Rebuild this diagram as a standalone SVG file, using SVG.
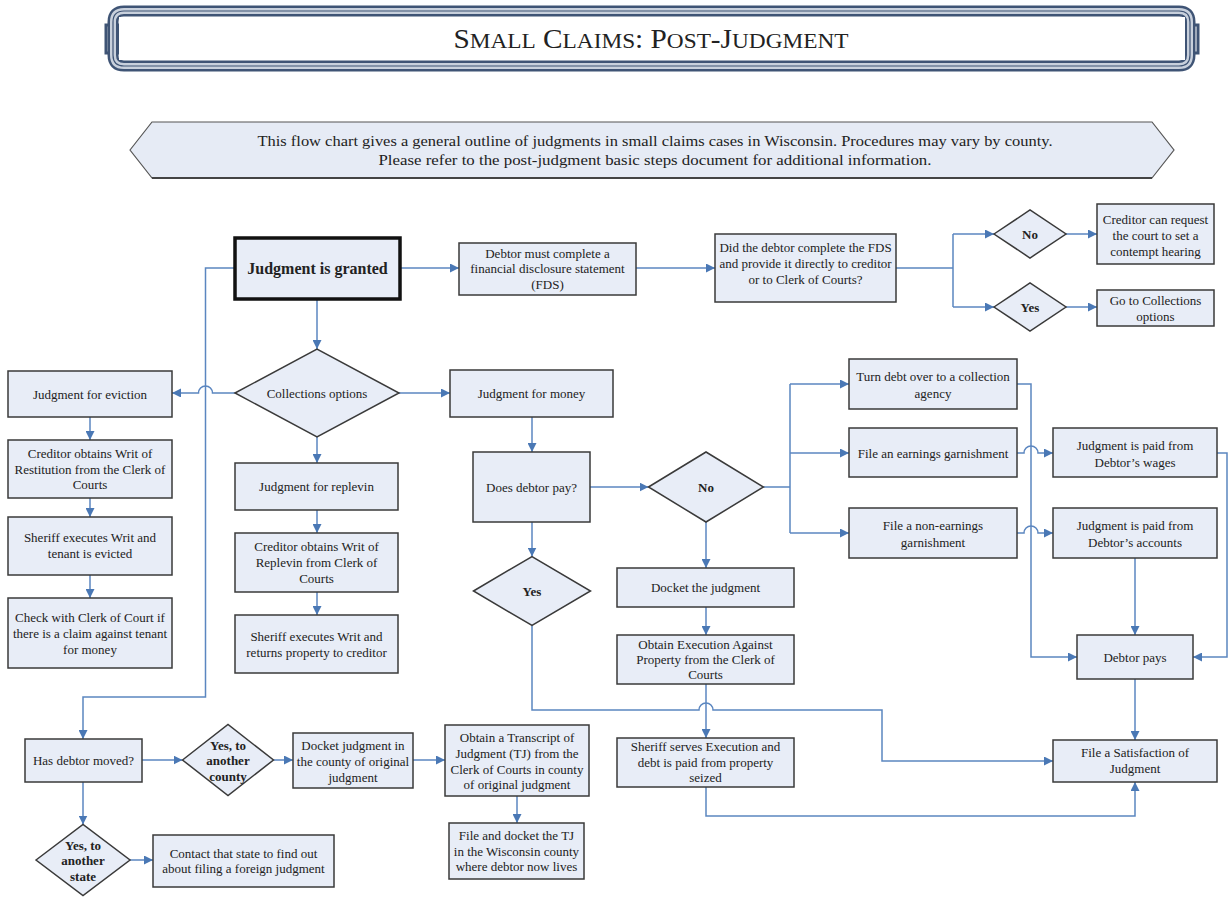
<svg xmlns="http://www.w3.org/2000/svg" width="1229" height="897" viewBox="0 0 1229 897">
<defs>
<marker id="ah" markerUnits="userSpaceOnUse" markerWidth="9" markerHeight="9" refX="9" refY="4.5" orient="auto">
<path d="M0,0 L9,4.5 L0,9 z" fill="#4a78b5"/>
</marker>
<style>
.box{fill:#e8edf7;stroke:#3a3a3a;stroke-width:1.5}
.t{font-family:"Liberation Serif","Times New Roman",serif;font-size:13px;fill:#222;text-anchor:middle}
.b{font-weight:bold}
.c{fill:none;stroke:#5b86c0;stroke-width:1.5}
.a{marker-end:url(#ah)}
.fr1{fill:none;stroke:#3f5475;stroke-width:11}
.fr2{fill:none;stroke:#c8d0dc;stroke-width:6}
.fr3{fill:none;stroke:#3f5475;stroke-width:1.2}
</style>
</defs>
<rect width="1229" height="897" fill="#ffffff"/>

<g id="title">
<rect x="106" y="25" width="12" height="28" fill="none" stroke="#3f5475" stroke-width="3"/>
<rect x="1186" y="25" width="12" height="28" fill="none" stroke="#3f5475" stroke-width="3"/>
<path class="fr1" d="M124 11 L1179 11 Q1190 11 1190 22 L1190 55 Q1190 66 1179 66 L124 66 Q113 66 113 55 L113 22 Q113 11 124 11 Z"/>
<path class="fr2" d="M124 11 L1179 11 Q1190 11 1190 22 L1190 55 Q1190 66 1179 66 L124 66 Q113 66 113 55 L113 22 Q113 11 124 11 Z"/>
<path class="fr3" d="M124 11 L1179 11 Q1190 11 1190 22 L1190 55 Q1190 66 1179 66 L124 66 Q113 66 113 55 L113 22 Q113 11 124 11 Z"/>
<rect x="119" y="17" width="1066" height="43" fill="#ffffff"/>
<text x="651" y="48" text-anchor="middle" font-family="Liberation Serif,Times New Roman,serif" font-size="27" fill="#222" textLength="395" lengthAdjust="spacingAndGlyphs">S<tspan font-size="21.5">MALL</tspan> C<tspan font-size="21.5">LAIMS</tspan>: P<tspan font-size="21.5">OST</tspan>-J<tspan font-size="21.5">UDGMENT</tspan></text>
</g>

<g id="banner">
<polygon points="130,150 152,122 1152,122 1174,150 1152,178 152,178" fill="#e6ebf5" stroke="#555" stroke-width="1.2"/>
<line x1="152" y1="178" x2="1152" y2="178" stroke="#444" stroke-width="2.2"/>
<text class="t" x="655" y="146" style="font-size:15px" textLength="795" lengthAdjust="spacingAndGlyphs">This flow chart gives a general outline of judgments in small claims cases in Wisconsin.  Procedures may vary by county.</text>
<text class="t" x="655" y="165" style="font-size:15px" textLength="553" lengthAdjust="spacingAndGlyphs">Please refer to the post-judgment basic steps document for additional information.</text>
</g>

<g id="connectors">
<path class="c a" d="M400 268 L459 268"/>
<path class="c a" d="M636 268 L715 268"/>
<path class="c" d="M896 268 L953 268 M953 234 L953 307"/>
<path class="c a" d="M953 234 L994 234"/>
<path class="c a" d="M953 307 L994 307"/>
<path class="c a" d="M1066 234 L1097 234"/>
<path class="c a" d="M1066 307 L1097 307"/>
<path class="c a" d="M317 299 L317 349"/>
<path class="c a" d="M235 393 L212.5 393 A7 7 0 0 0 198.5 393 L172 393"/>
<path class="c a" d="M399 393 L450 393"/>
<path class="c a" d="M317 437 L317 463"/>
<path class="c a" d="M317 510 L317 533"/>
<path class="c a" d="M317 592 L317 615"/>
<path class="c a" d="M90 417 L90 440"/>
<path class="c a" d="M90 498 L90 517"/>
<path class="c a" d="M90 575 L90 598"/>
<path class="c a" d="M532 417 L532 452"/>
<path class="c a" d="M532 522 L532 556.5"/>
<path class="c a" d="M590 487 L648.5 487"/>
<path class="c a" d="M706 522 L706 568"/>
<path class="c a" d="M706 607 L706 635"/>
<path class="c a" d="M706 684 L706 738"/>
<path class="c a" d="M532 625.5 L532 710 L699 710 A7 7 0 0 1 713 710 L882 710 L882 761 L1053 761"/>
<path class="c a" d="M706 787 L706 816 L1135 816 L1135 782"/>
<path class="c" d="M763.5 487 L790 487 M790 384 L790 533"/>
<path class="c a" d="M790 384 L849 384"/>
<path class="c a" d="M790 453 L849 453"/>
<path class="c a" d="M790 533 L849 533"/>
<path class="c a" d="M1017 384 L1031 384 L1031 657 L1077 657"/>
<path class="c a" d="M1017 453 L1024 453 A7 7 0 0 1 1038 453 L1053 453"/>
<path class="c a" d="M1017 533 L1024 533 A7 7 0 0 1 1038 533 L1053 533"/>
<path class="c a" d="M1217 453 L1227 453 L1227 657 L1193 657"/>
<path class="c a" d="M1135 558 L1135 635"/>
<path class="c a" d="M1135 679 L1135 740"/>
<path class="c a" d="M235 268 L205.5 268 L205.5 697 L83 697 L83 739"/>
<path class="c a" d="M142 760 L182.5 760"/>
<path class="c a" d="M273.5 760 L293 760"/>
<path class="c a" d="M413 760 L445 760"/>
<path class="c a" d="M517 796 L517 823"/>
<path class="c a" d="M83 782 L83 824.5"/>
<path class="c a" d="M130 860 L153 860"/>
</g>

<g id="n-granted">
<rect x="235" y="238" width="165" height="61" fill="#e8edf7" stroke="#111" stroke-width="3.5"/>
<text class="t b" x="317.5" y="274" style="font-size:16px">Judgment is granted</text>
</g>
<g id="n-fds">
<rect class="box" x="459" y="243" width="177" height="52"/>
<text class="t" x="547.5" y="257.5">Debtor must complete a</text>
<text class="t" x="547.5" y="272.5">financial disclosure statement</text>
<text class="t" x="547.5" y="288.5">(FDS)</text>
</g>
<g id="n-did">
<rect class="box" x="715" y="234" width="181" height="68"/>
<text class="t" x="805.5" y="251.5">Did the debtor complete the FDS</text>
<text class="t" x="805.5" y="267.5">and provide it directly to creditor</text>
<text class="t" x="805.5" y="283.5">or to Clerk of Courts?</text>
</g>
<g id="n-no1">
<polygon class="box" points="994,234 1030,210 1066,234 1030,258"/>
<text class="t b" x="1030" y="238.5">No</text>
</g>
<g id="n-yes1">
<polygon class="box" points="994,307 1030,283 1066,307 1030,331"/>
<text class="t b" x="1030" y="311.5">Yes</text>
</g>
<g id="n-contempt">
<rect class="box" x="1097" y="204" width="117" height="60"/>
<text class="t" x="1155.5" y="223.5">Creditor can request</text>
<text class="t" x="1155.5" y="239.5">the court to set a</text>
<text class="t" x="1155.5" y="255.5">contempt hearing</text>
</g>
<g id="n-goto">
<rect class="box" x="1097" y="290" width="117" height="36"/>
<text class="t" x="1155.5" y="304.5">Go to Collections</text>
<text class="t" x="1155.5" y="320.5">options</text>
</g>
<g id="n-collections">
<polygon class="box" points="235,393 317,349 399,393 317,437"/>
<text class="t" x="317" y="397.5">Collections options</text>
</g>
<g id="n-eviction">
<rect class="box" x="8" y="371" width="164" height="46"/>
<text class="t" x="90" y="398.5">Judgment for eviction</text>
</g>
<g id="n-restitution">
<rect class="box" x="8" y="440" width="164" height="58"/>
<text class="t" x="90" y="457.5">Creditor obtains Writ of</text>
<text class="t" x="90" y="473.5">Restitution from the Clerk of</text>
<text class="t" x="90" y="489">Courts</text>
</g>
<g id="n-evicted">
<rect class="box" x="8" y="517" width="164" height="58"/>
<text class="t" x="90" y="541.5">Sheriff executes Writ and</text>
<text class="t" x="90" y="557.5">tenant is evicted</text>
</g>
<g id="n-check">
<rect class="box" x="8" y="598" width="164" height="70"/>
<text class="t" x="90" y="621.5">Check with Clerk of Court if</text>
<text class="t" x="90" y="637.5">there is a claim against tenant</text>
<text class="t" x="90" y="653.5">for money</text>
</g>
<g id="n-replevin">
<rect class="box" x="235" y="463" width="163" height="47"/>
<text class="t" x="316.5" y="490.5">Judgment for replevin</text>
</g>
<g id="n-writ-replevin">
<rect class="box" x="235" y="533" width="163" height="59"/>
<text class="t" x="316.5" y="550.5">Creditor obtains Writ of</text>
<text class="t" x="316.5" y="566.5">Replevin from Clerk of</text>
<text class="t" x="316.5" y="582.5">Courts</text>
</g>
<g id="n-return">
<rect class="box" x="235" y="615" width="163" height="58"/>
<text class="t" x="316.5" y="640.5">Sheriff executes Writ and</text>
<text class="t" x="316.5" y="656.5">returns property to creditor</text>
</g>
<g id="n-money">
<rect class="box" x="450" y="370" width="163" height="47"/>
<text class="t" x="531.5" y="397.5">Judgment for money</text>
</g>
<g id="n-doespay">
<rect class="box" x="473" y="452" width="117" height="70"/>
<text class="t" x="531.5" y="491.5">Does debtor pay?</text>
</g>
<g id="n-yes2">
<polygon class="box" points="473.5,591 532,556.5 590.5,591 532,625.5"/>
<text class="t b" x="532" y="595.5">Yes</text>
</g>
<g id="n-no2">
<polygon class="box" points="648.5,487 706,452 763.5,487 706,522"/>
<text class="t b" x="706" y="491.5">No</text>
</g>
<g id="n-docket">
<rect class="box" x="617" y="568" width="177" height="39"/>
<text class="t" x="705.5" y="591.5">Docket the judgment</text>
</g>
<g id="n-execution">
<rect class="box" x="617" y="635" width="177" height="49"/>
<text class="t" x="705.5" y="648.5">Obtain Execution Against</text>
<text class="t" x="705.5" y="663.5">Property from the Clerk of</text>
<text class="t" x="705.5" y="679">Courts</text>
</g>
<g id="n-serves">
<rect class="box" x="617" y="738" width="177" height="49"/>
<text class="t" x="705.5" y="750.5">Sheriff serves Execution and</text>
<text class="t" x="705.5" y="766.5">debt is paid from property</text>
<text class="t" x="705.5" y="781.5">seized</text>
</g>
<g id="n-agency">
<rect class="box" x="849" y="359" width="168" height="50"/>
<text class="t" x="933" y="380.5">Turn debt over to a collection</text>
<text class="t" x="933" y="397.5">agency</text>
</g>
<g id="n-earnings">
<rect class="box" x="849" y="428" width="168" height="49"/>
<text class="t" x="933" y="457.5">File an earnings garnishment</text>
</g>
<g id="n-nonearnings">
<rect class="box" x="849" y="508" width="168" height="50"/>
<text class="t" x="933" y="529.5">File a non-earnings</text>
<text class="t" x="933" y="546.5">garnishment</text>
</g>
<g id="n-wages">
<rect class="box" x="1053" y="428" width="164" height="49"/>
<text class="t" x="1135" y="449.5">Judgment is paid from</text>
<text class="t" x="1135" y="466.5">Debtor’s wages</text>
</g>
<g id="n-accounts">
<rect class="box" x="1053" y="508" width="164" height="50"/>
<text class="t" x="1135" y="529.5">Judgment is paid from</text>
<text class="t" x="1135" y="546.5">Debtor’s accounts</text>
</g>
<g id="n-debtorpays">
<rect class="box" x="1077" y="635" width="116" height="44"/>
<text class="t" x="1135" y="661.5">Debtor pays</text>
</g>
<g id="n-satisfaction">
<rect class="box" x="1053" y="740" width="164" height="42"/>
<text class="t" x="1135" y="756.5">File a Satisfaction of</text>
<text class="t" x="1135" y="772.5">Judgment</text>
</g>
<g id="n-moved">
<rect class="box" x="25" y="739" width="117" height="43"/>
<text class="t" x="83.5" y="764.5">Has debtor moved?</text>
</g>
<g id="n-county">
<polygon class="box" points="182.5,760 228,724.5 273.5,760 228,795.5"/>
<text class="t b" x="228" y="749.5">Yes, to</text>
<text class="t b" x="228" y="765">another</text>
<text class="t b" x="228" y="781">county</text>
</g>
<g id="n-docket-county">
<rect class="box" x="293" y="733" width="120" height="55"/>
<text class="t" x="353" y="749.5">Docket judgment in</text>
<text class="t" x="353" y="765.5">the county of original</text>
<text class="t" x="353" y="781.5">judgment</text>
</g>
<g id="n-transcript">
<rect class="box" x="445" y="725" width="144" height="71"/>
<text class="t" x="517" y="741.5">Obtain a Transcript of</text>
<text class="t" x="517" y="757.5">Judgment (TJ) from the</text>
<text class="t" x="517" y="773.5">Clerk of Courts in county</text>
<text class="t" x="517" y="788.5">of original judgment</text>
</g>
<g id="n-filetj">
<rect class="box" x="449" y="823" width="135" height="56"/>
<text class="t" x="516.5" y="839.5">File and docket the TJ</text>
<text class="t" x="516.5" y="855.5">in the Wisconsin county</text>
<text class="t" x="516.5" y="870.5">where debtor now lives</text>
</g>
<g id="n-state">
<polygon class="box" points="36,860 83,824.5 130,860 83,895.5"/>
<text class="t b" x="83" y="849.5">Yes, to</text>
<text class="t b" x="83" y="864.5">another</text>
<text class="t b" x="83" y="880.5">state</text>
</g>
<g id="n-contact">
<rect class="box" x="153" y="835" width="181" height="52"/>
<text class="t" x="243.5" y="857.5">Contact that state to find out</text>
<text class="t" x="243.5" y="872.5">about filing a foreign judgment</text>
</g>
</svg>
